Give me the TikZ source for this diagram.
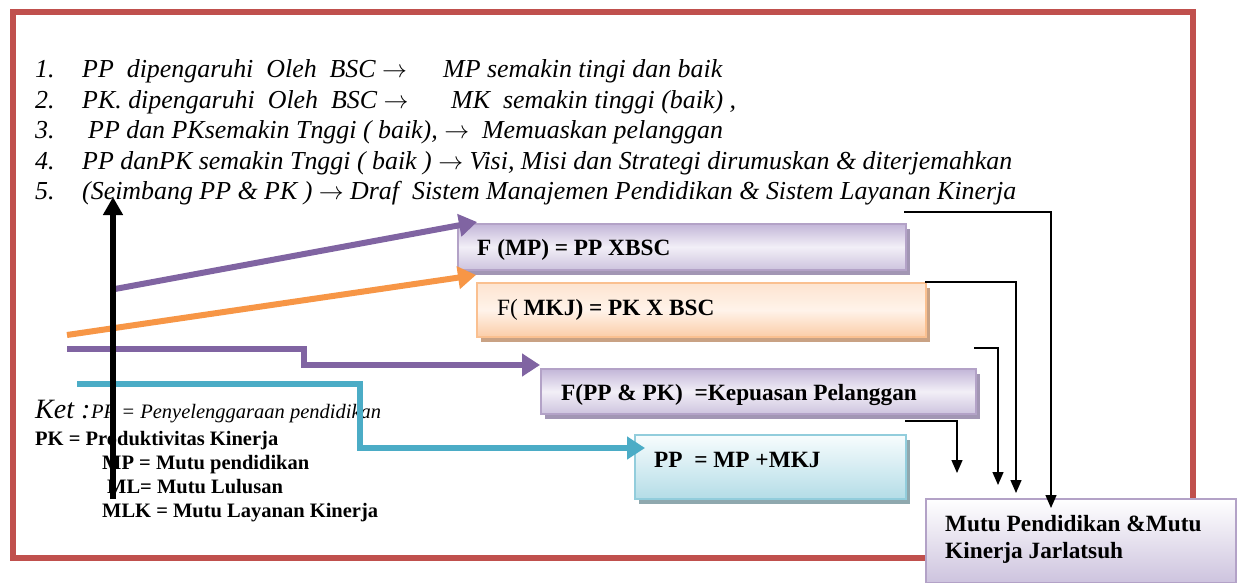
\documentclass[tikz,border=0pt]{standalone}
\usepackage{fontspec}
\setmainfont{Liberation Serif}
\usetikzlibrary{arrows.meta,shadows}

\definecolor{framered}{HTML}{C0504D}
\definecolor{lnpurple}{HTML}{8064A2}
\definecolor{lnorange}{HTML}{F79646}
\definecolor{lnteal}{HTML}{4BACC6}
\definecolor{bxpurple}{HTML}{B3A2C7}
\definecolor{bxpurpleA}{HTML}{C3B6D8}
\definecolor{bxpurpleB}{HTML}{F2EFF7}
\definecolor{bxpurpleC}{HTML}{CDC3DE}
\definecolor{shpurple}{HTML}{A296B4}
\definecolor{bxorange}{HTML}{FAC090}
\definecolor{bxorangeA}{HTML}{FDE4D0}
\definecolor{bxorangeB}{HTML}{FFF3EA}
\definecolor{bxorangeC}{HTML}{FBCDA8}
\definecolor{shorange}{HTML}{C9A284}
\definecolor{bxteal}{HTML}{92CDDC}
\definecolor{bxtealA}{HTML}{F7FCFD}
\definecolor{bxtealC}{HTML}{B4DDE7}
\definecolor{shteal}{HTML}{8FA8AE}

% upright arrow used inside the italic statements
\newcommand{\tofwd}{\ensuremath{\rightarrow}}

\begin{document}
\begin{tikzpicture}[x=1pt,y=-1pt,
  listtxt/.style={anchor=base west,inner sep=0pt,font=\fontsize{25.9}{30}\selectfont\itshape},
  boxtxt/.style={anchor=base west,inner sep=0pt,font=\fontsize{23.3}{27}\selectfont\bfseries},
  ketbold/.style={anchor=base west,inner sep=0pt,font=\fontsize{20.5}{24}\selectfont\bfseries},
  ketital/.style={anchor=base west,inner sep=0pt,font=\fontsize{20.5}{24}\selectfont\itshape},
  panel/.style={anchor=north west,inner sep=0pt,line width=2pt},
  purplepanel/.style={panel,draw=bxpurple,top color=bxpurpleA,bottom color=bxpurpleC,middle color=bxpurpleB,
    drop shadow={shadow xshift=4pt,shadow yshift=-5pt,fill=shpurple,opacity=1}},
  orangepanel/.style={panel,draw=bxorange,top color=bxorangeA,bottom color=bxorangeC,middle color=bxorangeB,
    drop shadow={shadow xshift=4pt,shadow yshift=-5pt,fill=shorange,opacity=1}},
  tealpanel/.style={panel,draw=bxteal,top color=bxtealA,bottom color=bxtealC,
    drop shadow={shadow xshift=4pt,shadow yshift=-5pt,fill=shteal,opacity=1}},
  resultpanel/.style={panel,draw=bxpurple,top color=white,bottom color=bxpurpleC},
  flow/.style={line width=6pt,-{Triangle[length=18pt,width=22pt]}},
  link/.style={line width=1.4pt,-{Triangle[length=13pt,width=11pt]}},
]
\useasboundingbox (0,0) rectangle (1237,583);
\fill[white] (0,0) rectangle (1237,583);

% outer frame
\draw[framered,line width=6pt] (12.5,12) rectangle (1193,558);

% numbered statements
\node[listtxt] (n1) at (35,78) {1.};
\node[listtxt] (l1a) at (82,78) {PP\ \ dipengaruhi\ \ Oleh\ \ BSC \tofwd};
\node[listtxt] (l1b) at (443,78) {MP semakin tingi dan baik};
\node[listtxt] (n2) at (35,108.5) {2.};
\node[listtxt] (l2a) at (82,108.5) {PK. dipengaruhi\ \ Oleh\ \ BSC \tofwd};
\node[listtxt] (l2b) at (451,108.5) {MK\ \ semakin tinggi (baik) ,};
\node[listtxt] (n3) at (35,139) {3.};
\node[listtxt] (l3) at (88,139) {PP dan PKsemakin Tnggi ( baik), \tofwd\ \ Memuaskan pelanggan};
\node[listtxt] (n4) at (35,169.5) {4.};
\node[listtxt] (l4) at (82,169.5) {PP danPK semakin Tnggi ( baik ) \tofwd{} Visi, Misi dan Strategi dirumuskan \& diterjemahkan};
\node[listtxt] (n5) at (35,200) {5.};
\node[listtxt] (l5) at (82,200) {(Seimbang PP \& PK ) \tofwd{} Draf\ \ Sistem Manajemen Pendidikan \& Sistem Layanan Kinerja};

% boxes
\node[purplepanel,minimum width=448,minimum height=46] (fmp) at (457,223) {};
\node[boxtxt] (fmpt) at (477,255) {F (MP) = PP XBSC};
\node[orangepanel,minimum width=449,minimum height=54] (mkj) at (476,282) {};
\node[boxtxt] (mkjt) at (497,315) {\mdseries F( \bfseries MKJ) = PK X BSC};
\node[purplepanel,minimum width=435,minimum height=45] (ppk) at (540,368) {};
\node[boxtxt] (ppkt) at (561,400) {F(PP \& PK)\ \ =Kepuasan Pelanggan};
\node[tealpanel,minimum width=271,minimum height=64] (ppb) at (634,434) {};
\node[boxtxt] (ppbt) at (654,467) {PP\ \ = MP +MKJ};
\node[resultpanel,minimum width=310,minimum height=84] (mutu) at (925,498) {};
\node[boxtxt] (mutu1) at (945,531) {Mutu Pendidikan \&Mutu};
\node[boxtxt] (mutu2) at (945,558) {Kinerja Jarlatsuh};

% legend
\node[anchor=base west,inner sep=0pt,font=\fontsize{28}{30}\selectfont\itshape] (ket) at (35,418) {Ket :};
\node[ketital] (k0) at (91,418) {PP = Penyelenggaraan pendidikan};
\node[ketbold] (k1) at (35,445) {PK = Produktivitas Kinerja};
\node[ketbold] (k2) at (102,469) {MP = Mutu pendidikan};
\node[ketbold] (k3) at (107,493) {ML= Mutu Lulusan};
\node[ketbold] (k4) at (102,517) {MLK = Mutu Layanan Kinerja};

% thick coloured flows
\coordinate (s1) at (115,289);
\coordinate (s2) at (67,335);
\coordinate (s3) at (67,349);
\coordinate (s4) at (77,384);
\draw[flow,lnpurple] (s1) -- ([xshift=20pt,yshift=1pt]fmp.north west);
\draw[flow,lnorange] (s2) -- ([yshift=7pt]mkj.north west);
\draw[flow,lnpurple] (s3) -- (304,349) -- (304,365) -- ([yshift=3pt]ppk.north west);
\draw[flow,lnteal] (s4) -- (360,384) -- (360,448) -- ([xshift=11pt,yshift=-14pt]ppb.north west);

% thin connectors towards the result box
\coordinate (c1) at (904,212);
\coordinate (c2) at (925,282);
\coordinate (c3) at (974,348);
\coordinate (c4) at (905,421);
\coordinate (e2) at (1016,493);
\coordinate (e3) at (998,485);
\coordinate (e4) at (957,473);
\draw[link] (c1) -| ([xshift=126pt,yshift=-10pt]mutu.north west);
\draw[link] (c2) -| (e2);
\draw[link] (c3) -| (e3);
\draw[link] (c4) -| (e4);

% vertical axis arrow
\coordinate (ax0) at (113,499);
\coordinate (ax1) at (113,197);
\draw[line width=6.5pt,-{Triangle[length=18pt,width=19pt]}] (ax0) -- (ax1);
\end{tikzpicture}
\end{document}
